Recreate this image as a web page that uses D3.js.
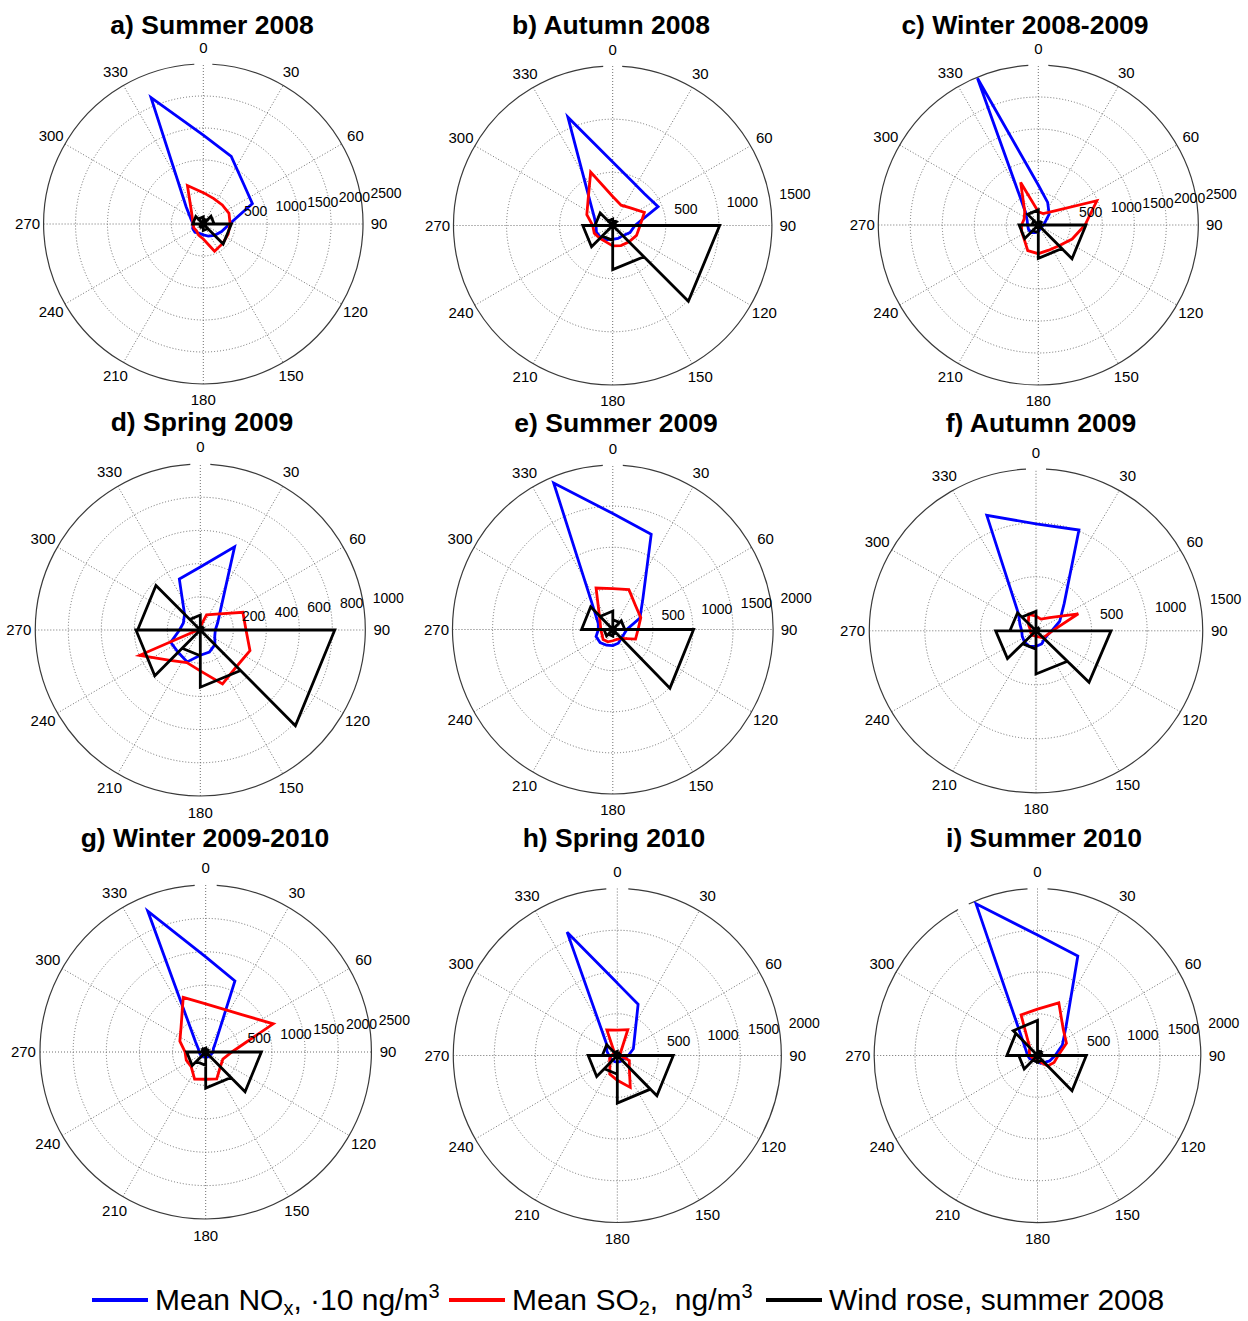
<!DOCTYPE html>
<html>
<head>
<meta charset="utf-8">
<script src="https://cdn.jsdelivr.net/npm/d3@7"></script>
<style>
  html, body { margin: 0; padding: 0; background: #fff; }
  svg { display: block; font-family: "Liberation Sans", Arial, Helvetica, sans-serif; }
</style>
</head>
<body>
<svg id="chart" width="1248" height="1321"></svg>
<script>
// ---- Data -------------------------------------------------------------
const panelTitles = [
  "a) Summer 2008", "b) Autumn 2008", "c) Winter 2008-2009",
  "d) Spring 2009", "e) Summer 2009", "f) Autumn 2009",
  "g) Winter 2009-2010", "h) Spring 2010", "i) Summer 2010"
];

// radial axis limits and ring tick labels of each panel
const radialMax = [2500, 1500, 2500, 1000, 2000, 1500, 2500, 2000, 2000];
const ringTicks = [
  [500, 1000, 1500, 2000, 2500],
  [500, 1000, 1500],
  [500, 1000, 1500, 2000, 2500],
  [200, 400, 600, 800, 1000],
  [500, 1000, 1500, 2000],
  [500, 1000, 1500],
  [500, 1000, 1500, 2000, 2500],
  [500, 1000, 1500, 2000],
  [500, 1000, 1500, 2000]
];

// compass tick labels (degrees, clockwise from north)
const angleTicks = [0, 30, 60, 90, 120, 150, 180, 210, 240, 270, 300, 330];

// wind-direction bins of the concentration roses (degrees)
const directions = [0, 22.5, 45, 67.5, 90, 112.5, 135, 157.5,
                    180, 202.5, 225, 247.5, 270, 292.5, 315, 337.5];

// mean NOx (x10 ng/m3) per direction bin
const noxValues = [
  [1390, 1143, 890, 832, 410, 310, 250, 205, 170, 160, 185, 180, 160, 210, 380, 2138],
  [597, 458, 423, 463, 210, 176, 135, 131, 130, 143, 160, 166, 157, 186, 295, 1103],
  [625, 382, 240, 115, 80, 60, 60, 70, 104, 130, 167, 167, 167, 188, 283, 2483],
  [380, 543, 174, 114, 91, 95, 125, 144, 152, 208, 190, 194, 126, 111, 135, 332],
  [1410, 1252, 531, 366, 175, 150, 150, 180, 195, 207, 224, 226, 180, 197, 326, 1928],
  [990, 1010, 359, 231, 141, 110, 107, 132, 144, 156, 147, 134, 129, 156, 223, 1157],
  [1424, 1152, 214, 125, 115, 90, 80, 80, 80, 80, 80, 90, 100, 120, 218, 2283],
  [867, 663, 297, 212, 134, 90, 80, 80, 80, 80, 80, 90, 100, 138, 179, 1599],
  [1442, 1290, 495, 330, 216, 163, 120, 100, 70, 70, 70, 102, 122, 151, 258, 1966]
];

// mean SO2 (ng/m3) per direction bin
const so2Values = [
  [490, 430, 420, 435, 420, 420, 430, 460, 235, 190, 150, 160, 160, 183, 260, 650],
  [273, 207, 235, 323, 258, 243, 218, 204, 192, 167, 170, 188, 188, 264, 329, 543],
  [208, 194, 295, 990, 730, 573, 457, 426, 448, 432, 313, 281, 260, 240, 300, 720],
  [20, 99, 136, 279, 277, 326, 311, 352, 246, 213, 259, 398, 15, 10, 10, 10],
  [498, 525, 404, 378, 315, 307, 154, 130, 137, 162, 171, 147, 150, 169, 236, 546],
  [135, 117, 173, 412, 147, 105, 90, 60, 50, 50, 50, 50, 50, 60, 100, 165],
  [720, 694, 786, 1103, 395, 280, 313, 435, 408, 438, 310, 317, 312, 422, 526, 886],
  [305, 335, 60, 40, 40, 159, 207, 413, 297, 241, 127, 102, 70, 50, 50, 332],
  [555, 682, 446, 384, 253, 220, 176, 80, 60, 60, 60, 70, 90, 110, 134, 526]
];

// wind rose sectors (start angle of each 45-degree sector)
const windSectors = [0, 45, 90, 135, 180, 225, 270, 315];
const sectorWidth = 45;
const windValues = [
  [80, 170, 440, 100, 60, 60, 166, 110],
  [50, 30, 1008, 415, 140, 282, 167, 60],
  [60, 40, 745, 521, 120, 300, 100, 235],
  [20, 20, 815, 345, 155, 390, 380, 90],
  [120, 150, 1008, 60, 80, 110, 390, 225],
  [30, 30, 675, 400, 170, 363, 235, 180],
  [40, 40, 840, 540, 200, 287, 60, 60],
  [30, 30, 683, 570, 224, 355, 183, 50],
  [60, 60, 598, 80, 80, 230, 375, 420]
];

// ---- Layout -----------------------------------------------------------
const panelLayout = [
  { cx: 203.3,  cy: 224,    rx: 159.7, ry: 160,   tx: 212,  ty: 34 },
  { cx: 612.7,  cy: 225.5,  rx: 159.2, ry: 159.5, tx: 611,  ty: 34 },
  { cx: 1038.3, cy: 225,    rx: 160,   ry: 160,   tx: 1025, ty: 34 },
  { cx: 200.3,  cy: 630,    rx: 165,   ry: 166,   tx: 202,  ty: 431 },
  { cx: 612.8,  cy: 629.5,  rx: 160.3, ry: 164.5, tx: 616,  ty: 432 },
  { cx: 1036,   cy: 630.8,  rx: 166.7, ry: 162,   tx: 1041, ty: 432 },
  { cx: 205.7,  cy: 1052,   rx: 165.7, ry: 167,   tx: 205,  ty: 847 },
  { cx: 617.3,  cy: 1055.5, rx: 164,   ry: 167,   tx: 614,  ty: 847 },
  { cx: 1037.5, cy: 1055.5, rx: 163.3, ry: 167,   tx: 1044, ty: 847 }
];
// breaks in the outer circle: [angle in degrees, half width in px]
const circleBreaks = [
  [[0, 9]], [[0, 9.5]], [[0, 10]], [[0, 10]], [[0, 10]], [[0, 10]],
  [[0, 11]], [[0, 11]], [[0, 10], [333, 6]]
];
const hiddenAngleLabels = [[], [], [], [], [], [], [], [], [330]];

const colors = { nox: "#0000ff", so2: "#ff0000", wind: "#000000" };
const deg = Math.PI / 180;

const svg = d3.select("#chart");

panelTitles.forEach((title, p) => {
  const L = panelLayout[p];
  const r = d3.scaleLinear().domain([0, radialMax[p]]).range([0, L.rx]);
  const sy = L.ry / L.rx;

  // title
  svg.append("text")
    .attr("x", L.tx).attr("y", L.ty)
    .attr("text-anchor", "middle")
    .attr("font-size", 26.5).attr("font-weight", "bold")
    .attr("fill", "#000")
    .text(title);

  const g = svg.append("g")
    .attr("transform", `translate(${L.cx},${L.cy}) scale(1,${sy})`);

  // dotted rings
  g.selectAll("circle.ring")
    .data(ringTicks[p].filter(v => v < radialMax[p]))
    .join("circle")
    .attr("class", "ring")
    .attr("r", d => r(d))
    .attr("fill", "none")
    .attr("stroke", "#6e6e6e")
    .attr("stroke-width", 1)
    .attr("stroke-dasharray", "1,2")
    .attr("vector-effect", "non-scaling-stroke");

  // dotted spokes every 30 degrees
  g.selectAll("line.spoke")
    .data(angleTicks.filter(a => a < 180))
    .join("line")
    .attr("class", "spoke")
    .attr("x1", a => -r(radialMax[p]) * Math.sin(a * deg))
    .attr("y1", a => r(radialMax[p]) * Math.cos(a * deg))
    .attr("x2", a => r(radialMax[p]) * Math.sin(a * deg))
    .attr("y2", a => -r(radialMax[p]) * Math.cos(a * deg))
    .attr("stroke", "#6e6e6e")
    .attr("stroke-width", 1)
    .attr("stroke-dasharray", "1,2")
    .attr("vector-effect", "non-scaling-stroke");

  // outer circle, broken where labels sit on it
  const R = r(radialMax[p]);
  const breaks = circleBreaks[p]
    .map(([a, hw]) => [a * deg - hw / R, a * deg + hw / R])
    .sort((u, v) => u[0] - v[0]);
  const outer = d3.path();
  breaks.forEach((b, k) => {
    const next = breaks[(k + 1) % breaks.length];
    const start = b[1];
    let end = next[0];
    if (end <= start) end += 2 * Math.PI;
    // compass angle -> canvas angle
    outer.moveTo(R * Math.sin(start), -R * Math.cos(start));
    outer.arc(0, 0, R, start - Math.PI / 2, end - Math.PI / 2);
  });
  g.append("path")
    .attr("d", outer.toString())
    .attr("fill", "none")
    .attr("stroke", "#3a3a3a")
    .attr("stroke-width", 1.2)
    .attr("vector-effect", "non-scaling-stroke");

  // concentration roses
  const roseLine = d3.lineRadial()
    .angle(d => d[0] * deg)
    .radius(d => r(d[1]))
    .curve(d3.curveLinearClosed);

  g.append("path")
    .datum(directions.map((a, k) => [a, noxValues[p][k]]))
    .attr("d", roseLine)
    .attr("fill", "none")
    .attr("stroke", colors.nox)
    .attr("stroke-width", 2.8)
    .attr("vector-effect", "non-scaling-stroke");

  g.append("path")
    .datum(directions.map((a, k) => [a, so2Values[p][k]]))
    .attr("d", roseLine)
    .attr("fill", "none")
    .attr("stroke", colors.so2)
    .attr("stroke-width", 2.8)
    .attr("vector-effect", "non-scaling-stroke");

  // wind rose: one triangle per sector, joined through the centre
  const windPts = [];
  windSectors.forEach((s, k) => {
    windPts.push([0, 0], [s, windValues[p][k]], [s + sectorWidth, windValues[p][k]]);
  });
  windPts.push([0, 0]);
  g.append("path")
    .datum(windPts)
    .attr("d", d3.lineRadial().angle(d => d[0] * deg).radius(d => r(d[1])))
    .attr("fill", "none")
    .attr("stroke", colors.wind)
    .attr("stroke-width", 2.8)
    .attr("vector-effect", "non-scaling-stroke");

  // compass labels
  svg.append("g")
    .selectAll("text")
    .data(angleTicks.filter(a => !hiddenAngleLabels[p].includes(a)))
    .join("text")
    .attr("x", a => L.cx + 1.1 * L.rx * Math.sin(a * deg))
    .attr("y", a => L.cy - 1.1 * L.ry * Math.cos(a * deg) + 5)
    .attr("text-anchor", "middle")
    .attr("font-size", 15)
    .attr("fill", "#000")
    .text(a => a);

  // ring labels along the 82-degree ray
  svg.append("g")
    .selectAll("text")
    .data(ringTicks[p])
    .join("text")
    .attr("x", v => L.cx + r(v) * Math.sin(82 * deg) + 9)
    .attr("y", v => L.cy - r(v) * sy * Math.cos(82 * deg) - 4)
    .attr("text-anchor", "start")
    .attr("font-size", 14)
    .attr("fill", "#000")
    .text(v => v);
});

// ---- Legend -----------------------------------------------------------
const legendKeys = ["nox", "so2", "wind"];
const legendLabels = [
  [["Mean NO", 0], ["x", 1], [", \u00b710 ng/m", 0], ["3", -1]],
  [["Mean SO", 0], ["2", 1], [",\u00a0\u00a0ng/m", 0], ["3", -1]],
  [["Wind rose, summer 2008", 0]]
];
const legendX = [92, 449, 766];
const legendY = 1300;

legendKeys.forEach((key, k) => {
  svg.append("line")
    .attr("x1", legendX[k]).attr("x2", legendX[k] + 56)
    .attr("y1", legendY).attr("y2", legendY)
    .attr("stroke", colors[key])
    .attr("stroke-width", 4);
  const t = svg.append("text")
    .attr("x", legendX[k] + 63)
    .attr("y", legendY + 10)
    .attr("font-size", 30)
    .attr("fill", "#000");
  let shift = 0;
  legendLabels[k].forEach(([str, pos]) => {
    const dy = pos === 1 ? 5 : pos === -1 ? -12 : 0;
    t.append("tspan")
      .attr("dy", dy - shift)
      .attr("font-size", pos === 0 ? 30 : 20)
      .text(str);
    shift = dy;
  });
});
</script>
</body>
</html>
